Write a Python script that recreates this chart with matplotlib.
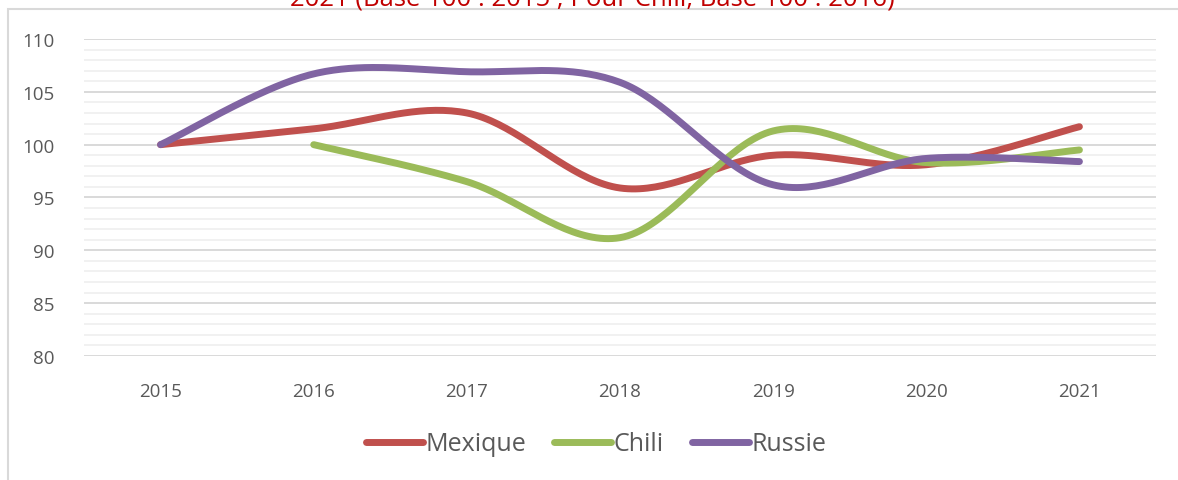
import numpy as np
import matplotlib.pyplot as plt
from matplotlib.patches import Rectangle

years = ['2015', '2016', '2017', '2018', '2019', '2020', '2021']
mexique = [100, 101.5, 103.0, 95.9, 99.0, 98.1, 101.7]
chili = [None, 100, 96.5, 91.2, 101.3, 98.3, 99.5]
russie = [100, 106.7, 106.9, 105.9, 96.2, 98.7, 98.4]

series = [('Mexique', mexique, '#C0504D'),
          ('Chili', chili, '#9BBB59'),
          ('Russie', russie, '#8064A2')]


def smooth(xs, ys, n=40):
    # Excel-like smoothed line (Catmull-Rom as cubic Bezier)
    pts = np.column_stack([xs, ys]).astype(float)
    out = [pts[0]]
    for i in range(len(pts) - 1):
        p0 = pts[i - 1] if i > 0 else pts[i]
        p1 = pts[i]
        p2 = pts[i + 1]
        p3 = pts[i + 2] if i + 2 < len(pts) else pts[i + 1]
        c1 = p1 + (p2 - p0) / 6.0
        c2 = p2 - (p3 - p1) / 6.0
        t = np.linspace(0, 1, n)[1:, None]
        seg = ((1 - t) ** 3) * p1 + 3 * ((1 - t) ** 2) * t * c1 + 3 * (1 - t) * t ** 2 * c2 + t ** 3 * p2
        out.extend(seg)
    out = np.array(out)
    return out[:, 0], out[:, 1]


plt.rcParams['font.family'] = ['Open Sans', 'DejaVu Sans']
fig = plt.figure(figsize=(11.78, 4.81), dpi=100)
ax = fig.add_axes([84 / 1178, 1 - 357 / 481, (1156 - 84) / 1178, (357 - 40) / 481])

for name, vals, col in series:
    xs = [i for i, v in enumerate(vals) if v is not None]
    ys = [v for v in vals if v is not None]
    sx, sy = smooth(xs, ys)
    ax.plot(sx, sy, color=col, lw=5, solid_capstyle='round', label=name, zorder=3)

ax.set_xlim(-0.5, len(years) - 0.5)
ax.set_ylim(80, 110)
ax.set_xticks(range(len(years)))
ax.set_xticklabels(years)
ax.set_yticks(np.arange(80, 111, 5))
ax.set_yticks(np.arange(80, 111, 1), minor=True)
ax.grid(True, axis='y', which='major', color='#D9D9D9', lw=1.4)
ax.grid(True, axis='y', which='minor', color='#F0F0F0', lw=1.3)
ax.set_axisbelow(True)
for s in ax.spines.values():
    s.set_visible(False)
ax.tick_params(axis='both', which='both', length=0, colors='#595959', labelsize=13.5)
ax.tick_params(axis='x', pad=19)
ax.tick_params(axis='y', pad=21)

leg = fig.legend(loc='center', bbox_to_anchor=(596 / 1178, 1 - 445 / 481), ncol=3,
                 frameon=False, fontsize=18, handlelength=2.3, handletextpad=0.1,
                 columnspacing=1.1)
for t in leg.get_texts():
    t.set_color('#595959')

fig.patches.append(Rectangle((8 / 1178, -0.1), 1.1, 1.1 - 10 / 481,
                             transform=fig.transFigure, fill=False,
                             edgecolor='#D9D9D9', lw=1.5))

fig.text(592 / 1178, 1 - 6 / 481, '2021 (Base 100 : 2015 ; Pour Chili, Base 100 : 2016)',
         color='#C00000', fontsize=18.5, ha='center', va='baseline')

fig.savefig('out.png', dpi=100)
